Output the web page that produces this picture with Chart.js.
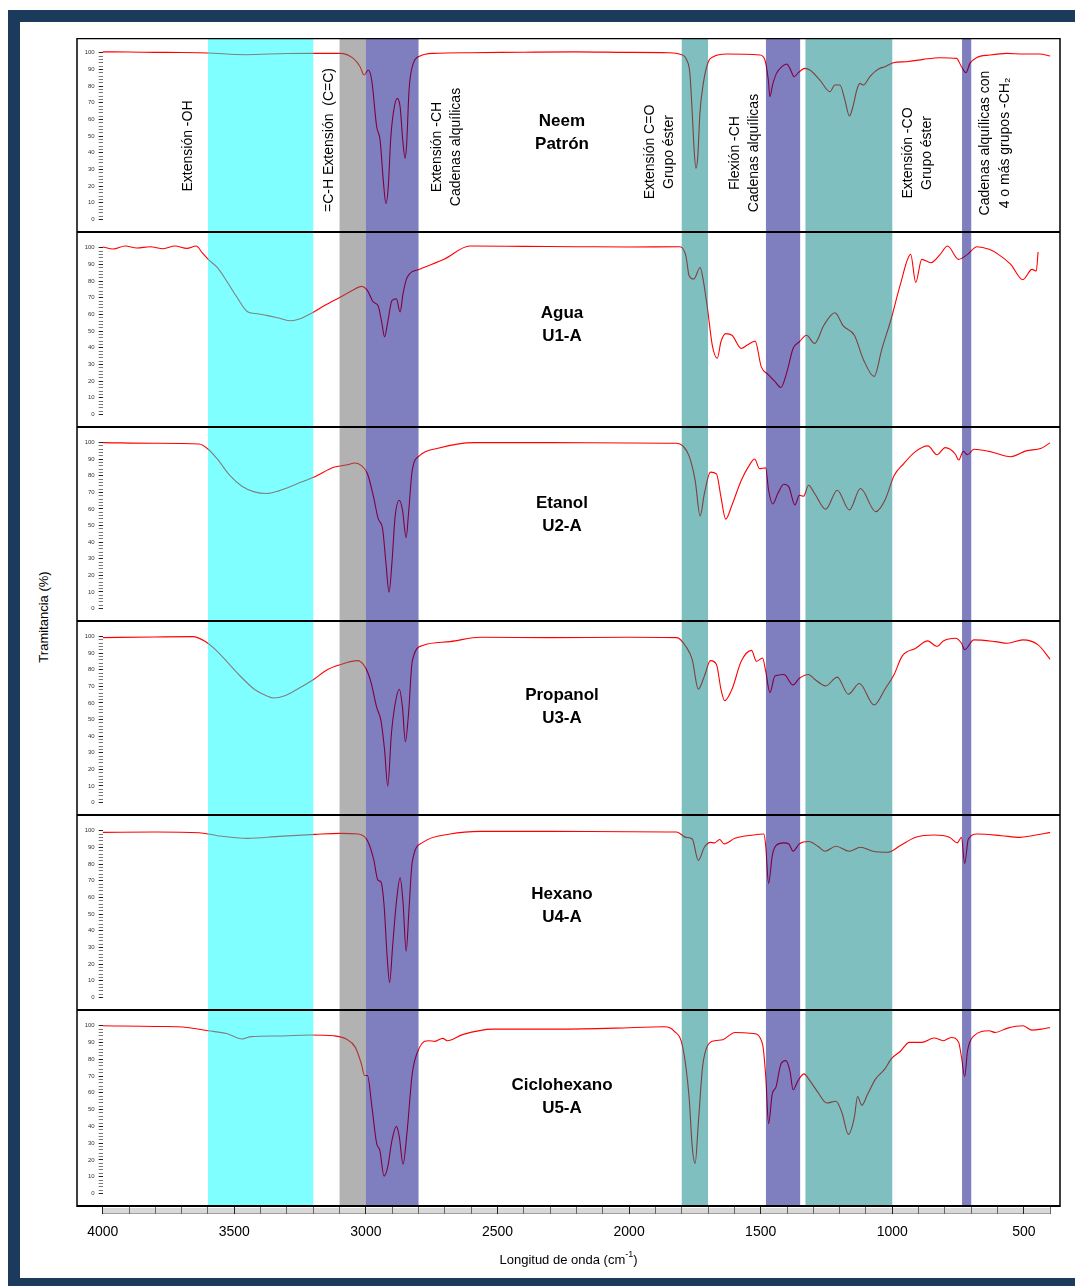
<!DOCTYPE html>
<html lang="es">

<head>
    <meta charset="UTF-8" />
    <title>Espectros FTIR</title>
    <style>
        html, body { margin: 0; padding: 0; overflow: hidden; background: #fff; }
        body { width: 1075px; height: 1286px; position: relative; font-family: "Liberation Sans", Arial, sans-serif; }
        .marco { position: absolute; left: 8px; top: 10px; width: 1200px; height: 1290px; background: #1b3a5c; }
        .interior { position: absolute; left: 20px; top: 22px; width: 1200px; height: 1256px; background: #fff; }
        .panel { position: absolute; left: 0; width: 1075px; }
        .panel canvas { display: block; }
        .titulo-y {
            position: absolute; left: 43px; top: 617px; font-size: 13px; color: #000;
            white-space: nowrap; transform: translate(-50%, -50%) rotate(-90deg);
        }
    </style>
</head>

<body>
    <div class="marco"></div>
    <div class="interior"></div>
    <div class="titulo-y">Tramitancia (%)</div>

    <script src="https://cdn.jsdelivr.net/npm/chart.js"></script>

    <script>
        // [número de onda (cm-1), transmitancia (%)]
        const neem = [[4000,100.5],[3900,100.4],[3800,100.2],[3700,100.1],[3600,99.8],[3459,98.8],[3300,99.5],[3200,99.6],
            [3098,99.6],[3048,96.6],[3022,91.6],[3007,86.6],[2991,89.6],[2978,83.6],[2959,55.6],[2946,47.6],[2934,23.6],
            [2924,9.6],[2915,19.6],[2906,47.6],[2896,63.6],[2881,72.6],[2870,67.6],[2860,47.6],[2851,36.6],[2845,45.7],
            [2836,77.6],[2820,93.6],[2794,98],[2745,99.6],[2600,100],[2400,100.3],[2200,100.5],[2000,100.2],[1850,100],
            [1806,99],[1781,95.6],[1769,87.6],[1760,63.6],[1752,39.6],[1746,30.6],[1739,37.6],[1731,63.6],[1718,81.6],
            [1699,94.6],[1680,97.6],[1629,99.2],[1503,98.6],[1484,95.6],[1471,83.6],[1465,73.6],[1455,80.6],[1440,87.6],
            [1420,91.6],[1401,93.2],[1389,90.6],[1373,85.6],[1357,88],[1332,90.6],[1313,89.6],[1275,83.6],[1237,76.6],
            [1218,80.6],[1199,80.6],[1180,71.6],[1163,62],[1148,68.6],[1135,77.6],[1123,81.6],[1110,80.6],[1085,85.6],
            [1066,88.6],[1047,90.6],[1028,91.6],[996,94],[945,94.6],[882,96],[819,97],[756,96.6],[737,91.6],[720,88],
            [705,93.6],[680,97],[629,98.6],[565,99.6],[502,99.2],[439,99.2],[400,98]];

        const agua = [[4000,100.4],[3960,99.2],[3915,101],[3870,99.8],[3820,100.6],[3770,99.4],[3725,101],[3680,99.6],
            [3645,101],[3622,97],[3599,93],[3564,88],[3529,80],[3494,71.3],[3448,61.4],[3413,60.4],[3378,59.4],[3331,57.8],
            [3285,56.2],[3250,57.4],[3203,61],[3157,65.3],[3098,70.3],[3052,74.3],[3017,76.8],[2994,74.3],[2971,67.3],
            [2954,65.3],[2940,55.4],[2929,46.5],[2917,55.4],[2901,68.3],[2884,69.3],[2870,61.4],[2859,72.3],[2843,82.2],
            [2796,87.1],[2703,93],[2605,101],[2400,100.8],[2200,100.6],[2000,100.4],[1807,100.6],[1784,95],[1772,83.2],
            [1754,81.2],[1730,88.1],[1719,81.2],[1702,63.4],[1684,41.6],[1665,33.7],[1651,43.6],[1633,48.5],[1609,47.5],
            [1574,39.6],[1551,41.6],[1521,44],[1498,28.7],[1470,23.8],[1446,19.8],[1423,16.2],[1400,25.7],[1377,39.6],
            [1353,43.6],[1326,47.5],[1295,42.6],[1260,53.5],[1218,61],[1186,53.1],[1144,47.5],[1109,32.7],[1069,22.8],
            [1039,39.6],[1004,57.4],[969,78.2],[930,96],[911,79.2],[888,93],[853,91],[818,96],[790,101],[748,93],[714,96],
            [678,100.6],[632,99],[597,96],[550,90],[504,80.8],[469,87],[453,86],[446,97.4]];

        const etanol = [[4000,100],[3800,99.6],[3634,99.2],[3599,96],[3564,90],[3517,80.2],[3471,73.7],[3424,70.3],
            [3378,69.3],[3331,70.9],[3261,75.2],[3192,79.6],[3122,85.1],[3075,86.5],[3040,87.7],[3017,86.1],[2994,81.2],
            [2971,67.3],[2954,54.5],[2936,47.5],[2924,27.7],[2912,9.9],[2901,27.7],[2889,55.4],[2873,65.3],[2861,59.4],
            [2847,42.6],[2838,57.4],[2824,83.2],[2796,92.1],[2726,96.6],[2587,100],[2300,100],[2000,99.8],[1819,99.6],
            [1796,98],[1772,92],[1749,77.2],[1730,55.8],[1714,69.3],[1691,82.2],[1668,81.2],[1651,67.3],[1633,53.9],
            [1609,62.4],[1574,77.2],[1544,86.1],[1523,90.1],[1504,84.2],[1481,84.8],[1470,71.3],[1454,63],[1435,69.3],
            [1412,74.9],[1393,73.3],[1370,62.4],[1353,68.3],[1337,67.7],[1318,74.3],[1295,69.3],[1253,59.8],[1209,71.3],
            [1163,59.4],[1121,72.3],[1063,58.4],[1028,65.3],[993,80.2],[958,87.1],[911,94.7],[865,98],[830,92.7],[799,97],
            [760,93],[748,89.5],[730,94.7],[714,92.7],[690,96],[632,94.7],[550,91.5],[492,95],[434,96.6],[399,100]];

        const propanol = [[4000,99.4],[3800,99.8],[3657,100],[3610,97],[3564,91],[3517,83],[3471,75.2],[3424,68.3],
            [3378,64.4],[3350,63],[3308,64.4],[3261,68.3],[3203,73.7],[3145,80.2],[3075,84.2],[3033,85.5],[3005,82.2],
            [2982,73.3],[2959,57.4],[2943,49.5],[2929,31.7],[2917,9.9],[2903,41.6],[2889,59.4],[2873,68.3],[2861,57.4],
            [2850,36.6],[2838,53.5],[2824,85.1],[2784,94.7],[2680,97],[2563,99.6],[2300,99.4],[2000,99.6],[1819,99.4],
            [1784,94],[1760,86.1],[1737,68.3],[1714,76.2],[1691,85.5],[1668,83.2],[1651,68.3],[1637,61.4],[1609,68.3],
            [1574,85.1],[1535,91.7],[1516,85.1],[1493,87.1],[1481,79.2],[1465,66.3],[1446,76.2],[1412,77.2],[1377,70.9],
            [1353,74.9],[1318,77.2],[1295,74.3],[1253,70.3],[1209,75.6],[1167,65.3],[1125,71.7],[1069,58.8],[1028,68.3],
            [993,77.2],[963,88.1],[911,93],[865,97.4],[830,94],[806,97.4],[760,99],[737,96],[725,92.1],[690,98],[609,97],
            [562,96],[504,98],[446,95],[399,86.1]];

        const hexano = [[4000,99],[3800,99.2],[3634,98.8],[3564,97],[3448,95.4],[3331,96.6],[3192,97.8],[3098,98.4],
            [3029,98],[2994,94],[2971,83.2],[2954,70.3],[2943,69.3],[2931,55.4],[2919,23.8],[2910,8.9],[2898,31.7],
            [2884,57.4],[2870,71.7],[2859,57.4],[2847,27.7],[2836,53.5],[2824,81.2],[2784,93],[2680,98],[2563,99.6],
            [2300,99.6],[2000,99.4],[1819,99.2],[1784,96],[1760,95],[1737,82.2],[1714,90.1],[1691,93],[1675,92.7],
            [1656,94.7],[1639,92.1],[1598,95.4],[1528,97.4],[1488,98],[1481,91.1],[1470,68.3],[1456,85.1],[1442,91.1],
            [1412,92.7],[1393,92],[1377,87.7],[1353,92.1],[1318,93.5],[1283,90.7],[1256,87.7],[1214,90.7],[1163,87.7],
            [1121,90.1],[1074,87.7],[1016,87.1],[969,91.1],[911,96],[841,97.4],[783,96],[753,92.7],[737,96],[725,80.2],
            [711,95],[678,98],[585,97],[516,96],[469,97],[399,99]];

        const ciclohexano = [[4000,100],[3797,99.6],[3680,99],[3599,97],[3529,95.4],[3471,92.1],[3436,93.5],[3331,93.9],
            [3215,94.5],[3122,94],[3075,92.1],[3040,87.1],[3017,77.2],[3005,70.3],[2994,70.3],[2977,51.5],[2959,29.7],
            [2947,25.7],[2931,10.3],[2917,15.8],[2901,31.7],[2884,40],[2873,33.7],[2859,17.4],[2843,37.6],[2824,71.3],
            [2796,87.1],[2761,91.1],[2738,90.7],[2708,92.5],[2691,91.1],[2633,94.7],[2517,98],[2284,98],[2051,98.6],
            [1865,99.4],[1830,97],[1796,87.1],[1772,57.4],[1760,27.7],[1749,17.8],[1737,41.6],[1721,75.2],[1702,88.1],
            [1675,91.1],[1644,91.7],[1598,96],[1528,95.4],[1493,89.1],[1481,70.3],[1470,41.6],[1456,59.4],[1442,63.4],
            [1423,77.2],[1404,79.2],[1388,72.3],[1377,61.8],[1358,67.3],[1335,71.3],[1318,68.3],[1283,60.4],[1249,53.9],
            [1214,55],[1190,47.5],[1167,35.2],[1144,45.5],[1132,57.8],[1116,52.5],[1093,59.4],[1063,68.3],[1028,74.3],
            [1004,80.2],[969,84.8],[935,90.1],[888,90.1],[841,92.7],[806,91.1],[776,93],[748,90.1],[737,81.2],[725,69.7],
            [714,85.1],[690,94],[632,97],[609,96],[562,98.6],[504,100],[469,97.4],[434,98],[399,99]];

        const muestras = [['Neem', 'Patrón'], ['Agua', 'U1-A'], ['Etanol', 'U2-A'], ['Propanol', 'U3-A'], ['Hexano', 'U4-A'], ['Ciclohexano', 'U5-A']];

        // Regiones de absorción (cm-1)
        const bandaInicio = [3600, 3100, 3000, 1800, 1480, 1330, 735];
        const bandaFin = [3200, 3000, 2800, 1700, 1350, 1000, 700];
        const bandaColor = ['rgba(0,255,255,0.5)', 'rgba(102,102,102,0.5)', 'rgba(0,0,128,0.5)', 'rgba(0,128,128,0.5)',
            'rgba(0,0,128,0.5)', 'rgba(0,128,128,0.5)', 'rgba(0,0,128,0.5)'];

        const etiquetasX = [4000, 3500, 3000, 2500, 2000, 1500, 1000, 500];
        const etiquetasY = [0, 10, 20, 30, 40, 50, 60, 70, 80, 90, 100];

        const grupos = [
            { wn: 3676, lineas: ['Extensión -OH'], y: 108 },
            { wn: 3140, lineas: ['=C-H Extensión  (C=C)'], y: 102 },
            { wn: 2730, lineas: ['Extensión -CH', 'Cadenas alquílicas'], y: 109 },
            { wn: 1921, lineas: ['Extensión C=O', 'Grupo éster'], y: 114 },
            { wn: 1598, lineas: ['Flexión -CH', 'Cadenas alquílicas'], y: 115 },
            { wn: 940, lineas: ['Extensión -CO', 'Grupo éster'], y: 115 },
            { wn: 647, lineas: ['Cadenas alquílicas con', '4 o más grupos -CH₂'], y: 105 }
        ];

        const espectros = [neem, agua, etanol, propanol, hexano, ciclohexano];
        const panelTop = [38, 233, 428, 622, 816, 1011];
        const panelAlto = [195, 195, 194, 194, 195, 196];
        const nombreTop = [83, 80, 75, 73, 78, 74];
        const EJE_ALTO = 79;
        const MARCO_IZQ = 77, MARCO_DER = 1060;
        const FUENTE = '"Liberation Sans", Arial, sans-serif';

        const marcoPanel = {
            id: 'marcoPanel',
            beforeDraw(chart, args, opts) {
                if (!opts.ultimo) return;
                const { ctx, chartArea, scales: { x } } = chart;
                const l = x.getPixelForValue(4000), r = x.getPixelForValue(400);
                ctx.save();
                ctx.fillStyle = '#d9d9d9';
                ctx.fillRect(l, chartArea.bottom + 1, r - l, 5);
                ctx.strokeStyle = '#a0a0a0';
                ctx.lineWidth = 1;
                ctx.beginPath();
                ctx.moveTo(l, chartArea.bottom + 6.5);
                ctx.lineTo(r, chartArea.bottom + 6.5);
                ctx.stroke();
                ctx.restore();
            },
            afterDatasetsDraw(chart, args, opts) {
                const { ctx, chartArea: { top, bottom }, scales: { x } } = chart;
                ctx.save();

                bandaInicio.forEach((ini, k) => {
                    const x0 = x.getPixelForValue(ini), x1 = x.getPixelForValue(bandaFin[k]);
                    ctx.fillStyle = bandaColor[k];
                    ctx.fillRect(x0, top, x1 - x0, bottom - top);
                });

                ctx.strokeStyle = '#000';
                ctx.lineWidth = 1.5;
                ctx.beginPath();
                ctx.moveTo(MARCO_IZQ, top); ctx.lineTo(MARCO_IZQ, bottom);
                ctx.moveTo(MARCO_DER, top); ctx.lineTo(MARCO_DER, bottom);
                ctx.stroke();
                ctx.beginPath();
                if (opts.indice === 0) {
                    ctx.lineWidth = 1.3;
                    ctx.moveTo(MARCO_IZQ, top + 0.7); ctx.lineTo(MARCO_DER, top + 0.7);
                    ctx.stroke();
                    ctx.beginPath();
                }
                ctx.lineWidth = 2;
                ctx.moveTo(MARCO_IZQ, bottom - 1); ctx.lineTo(MARCO_DER, bottom - 1);
                ctx.stroke();

                // nombre de la muestra
                const cx = x.getPixelForValue(2255);
                ctx.fillStyle = '#000';
                ctx.textAlign = 'center';
                ctx.textBaseline = 'middle';
                ctx.font = 'bold 17px ' + FUENTE;
                const [l1, l2] = muestras[opts.indice];
                ctx.fillText(l1, cx, top + nombreTop[opts.indice]);
                ctx.fillText(l2, cx, top + nombreTop[opts.indice] + 23);

                // grupos funcionales (solo en el patrón)
                if (opts.indice === 0) {
                    ctx.font = '14px ' + FUENTE;
                    grupos.forEach(g => {
                        g.lineas.forEach((txt, j) => {
                            ctx.save();
                            ctx.translate(x.getPixelForValue(g.wn) + j * 19.5, top + g.y);
                            ctx.rotate(-Math.PI / 2);
                            ctx.fillText(txt, 0, 0);
                            ctx.restore();
                        });
                    });
                }

                if (opts.ultimo) {
                    const tx = (MARCO_IZQ + MARCO_DER) / 2, ty = bottom + 53;
                    const base = 'Longitud de onda (cm';
                    ctx.font = '13px ' + FUENTE;
                    const wBase = ctx.measureText(base).width;
                    ctx.font = '9px ' + FUENTE;
                    const wSup = ctx.measureText('-1').width;
                    ctx.font = '13px ' + FUENTE;
                    const wCierre = ctx.measureText(')').width;
                    let px = tx - (wBase + wSup + wCierre) / 2;
                    ctx.textAlign = 'left';
                    ctx.fillText(base, px, ty);
                    px += wBase;
                    ctx.font = '9px ' + FUENTE;
                    ctx.fillText('-1', px, ty - 5);
                    px += wSup;
                    ctx.font = '13px ' + FUENTE;
                    ctx.fillText(')', px, ty);
                }
                ctx.restore();
            }
        };

        espectros.forEach((serie, i) => {
            const ultimo = i === espectros.length - 1;
            const caja = document.createElement('div');
            caja.className = 'panel';
            caja.style.top = panelTop[i] + 'px';
            const canvas = document.createElement('canvas');
            canvas.width = 1075;
            canvas.height = panelAlto[i] + (ultimo ? EJE_ALTO : 0);
            caja.appendChild(canvas);
            document.body.appendChild(caja);

            new Chart(canvas, {
                type: 'line',
                data: {
                    datasets: [{
                        data: serie.map(([x, y]) => ({ x, y })),
                        borderColor: '#ff0000',
                        borderWidth: 1.1,
                        pointRadius: 0,
                        cubicInterpolationMode: 'monotone',
                        fill: false
                    }]
                },
                options: {
                    responsive: false,
                    animation: false,
                    events: [],
                    layout: { padding: { left: 72.7, right: 24.8, top: 0, bottom: 0 } },
                    plugins: {
                        legend: { display: false },
                        tooltip: { enabled: false },
                        marcoPanel: { indice: i, ultimo }
                    },
                    scales: {
                        x: {
                            type: 'linear',
                            min: 400,
                            max: 4000,
                            reverse: true,
                            display: ultimo,
                            border: { display: false },
                            grid: {
                                drawOnChartArea: false,
                                tickLength: 7,
                                tickColor: c => (c.tick && c.tick.value % 500 === 0) ? '#222' : '#666'
                            },
                            ticks: {
                                stepSize: 100,
                                maxTicksLimit: 100,
                                autoSkip: false,
                                maxRotation: 0,
                                padding: 10,
                                color: '#000',
                                font: { size: 14, family: FUENTE },
                                callback: v => etiquetasX.includes(v) ? v : ''
                            },
                            afterFit: s => {
                                s.height = ultimo ? EJE_ALTO : 0;
                                s.paddingLeft = 0;
                                s.paddingRight = 0;
                            }
                        },
                        y: {
                            min: -8.1,
                            max: 108.8,
                            border: { display: false },
                            grid: {
                                drawOnChartArea: false,
                                tickLength: 4,
                                tickColor: c => (c.tick && etiquetasY.includes(c.tick.value)) ? '#222' : '#777'
                            },
                            ticks: {
                                autoSkip: false,
                                padding: 4,
                                color: '#333',
                                font: { size: 6, family: FUENTE },
                                callback: v => etiquetasY.includes(v) ? v : ''
                            },
                            afterBuildTicks: s => {
                                const t = [];
                                for (let v = 0; v <= 100; v += 2) t.push({ value: v });
                                s.ticks = t;
                            },
                            afterFit: s => { s.width = 30; s.paddingTop = 0; s.paddingBottom = 0; }
                        }
                    }
                },
                plugins: [marcoPanel]
            });
        });
    </script>
</body>

</html>
